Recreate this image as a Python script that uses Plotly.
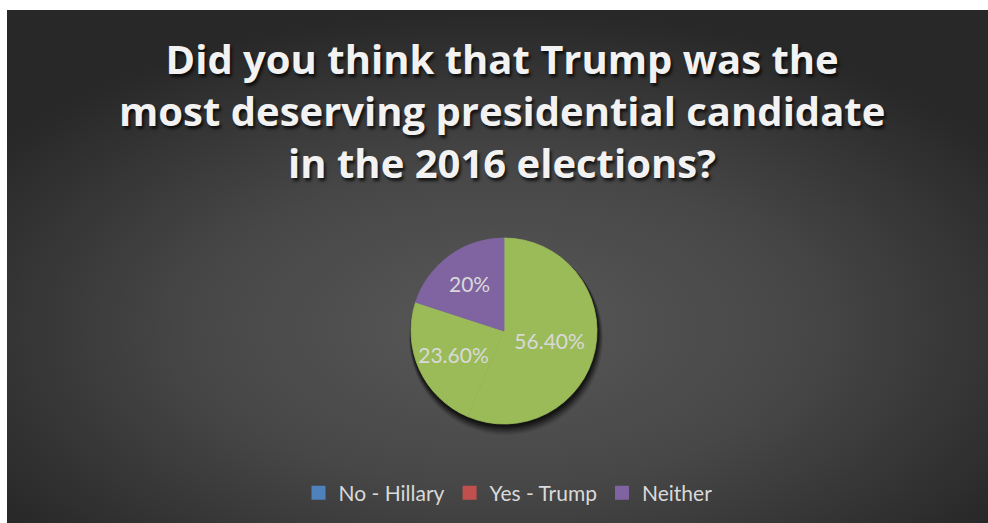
import base64
import plotly.graph_objects as go

# ---- data ----
labels = ["No - Hillary", "Yes - Trump", "Neither"]
values = [56.4, 23.6, 20.0]
value_text = ["56.40%", "23.60%", "20%"]
slice_colors = ["#9BBB59", "#9BBB59", "#8064A2"]
legend_colors = ["#4F81BD", "#C0504D", "#8064A2"]
title_text = ("Did you think that Trump was the<br>most deserving presidential candidate"
              "<br>in the 2016 elections?")

W, H = 988, 523


def px(sx):
    return sx / W


def py(sy):
    return 1 - sy / H


# background panel with radial gradient
svg = (
    '<svg xmlns="http://www.w3.org/2000/svg" width="981" height="513" viewBox="0 0 981 513" preserveAspectRatio="none">'
    '<defs><radialGradient id="g" cx="0.5" cy="0.62" r="0.62" fx="0.5" fy="0.62">'
    '<stop offset="0" stop-color="#585858"/>'
    '<stop offset="0.5" stop-color="#474747"/>'
    '<stop offset="1" stop-color="#282828"/>'
    '</radialGradient></defs>'
    '<rect x="0" y="0" width="981" height="513" fill="url(#g)"/></svg>'
)
svg_uri = "data:image/svg+xml;base64," + base64.b64encode(svg.encode()).decode()

cx, cy, r = 504, 331, 93  # screen pixels

fig = go.Figure()
fig.add_trace(go.Pie(
    labels=labels, values=values, text=value_text,
    textinfo="text", textposition="inside", insidetextorientation="horizontal",
    sort=False, direction="clockwise", rotation=0,
    marker=dict(colors=slice_colors, line=dict(width=0.8, color=slice_colors)),
    textfont=dict(family="Lato", size=21, color="#D9D9D9"),
    showlegend=False, hoverinfo="label+percent",
    domain=dict(x=[px(cx - r), px(cx + r)], y=[py(cy + r), py(cy - r)]),
))
for lab, col in zip(labels, legend_colors):
    fig.add_trace(go.Scatter(
        x=[None], y=[None], mode="markers", name=lab,
        marker=dict(symbol="square", size=14, color=col),
    ))

shapes = []
for i, (off, op) in enumerate([(7, 0.08), (6, 0.12), (5, 0.16), (4, 0.2), (3, 0.25), (2, 0.3)]):
    rr = r + 1 + (5 - i) * 0.6
    shapes.append(dict(
        type="circle", xref="paper", yref="paper", layer="below",
        x0=px(cx - rr + off * 0.3), x1=px(cx + rr + off * 0.3),
        y0=py(cy + off + rr), y1=py(cy + off - rr),
        fillcolor=f"rgba(0,0,0,{op})", line=dict(width=0),
    ))

fig.update_layout(
    width=W, height=H,
    margin=dict(l=0, r=0, t=0, b=0),
    paper_bgcolor="white", plot_bgcolor="rgba(0,0,0,0)",
    xaxis=dict(visible=False), yaxis=dict(visible=False),
    images=[dict(source=svg_uri, xref="paper", yref="paper",
                 x=px(7), y=py(10), sizex=1 - px(7), sizey=py(10),
                 xanchor="left", yanchor="top", sizing="stretch", layer="below")],
    shapes=shapes,
    annotations=[dict(
        text=title_text, xref="paper", yref="paper", x=px(502), y=py(110),
        xanchor="center", yanchor="middle", showarrow=False, align="center",
        font=dict(family="Open Sans", size=40, color="#F2F2F2",
                  weight="bold", shadow="2px 3px 3px rgba(0,0,0,0.7)"),
    )],
    legend=dict(orientation="h", x=px(508), xanchor="center", y=py(493), yanchor="middle",
                font=dict(family="Lato", size=21, color="#D9D9D9"),
                bgcolor="rgba(0,0,0,0)"),
)

fig.write_html(
    "out.html",
    config={"displayModeBar": False},
    post_script=("document.body.style.margin='0';"
                 "document.documentElement.style.overflow='hidden';"
                 "document.body.style.overflow='hidden';"),
)
